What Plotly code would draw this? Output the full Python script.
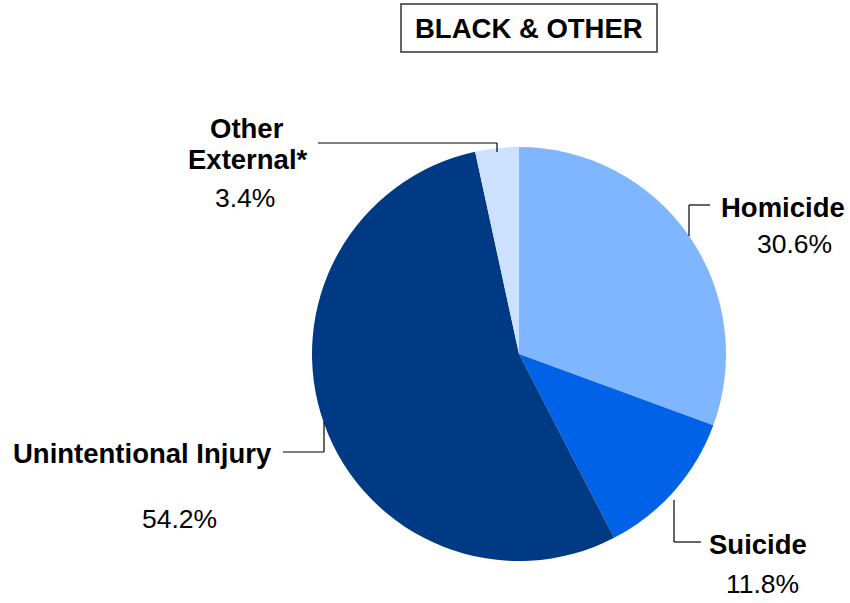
import plotly.graph_objects as go

W, H = 850, 603

categories = ["Homicide", "Suicide", "Unintentional Injury", "Other External*"]
values = [30.6, 11.8, 54.2, 3.4]
colors = ["#80B6FF", "#0062E6", "#003A84", "#CCE0FF"]
title_text = "BLACK & OTHER"

def px(x):
    return x / W

def py(y):
    return 1 - y / H

FONT = "Arial, Liberation Sans, sans-serif"

fig = go.Figure(go.Pie(
    labels=categories,
    values=values,
    sort=False,
    direction="clockwise",
    rotation=0,
    textinfo="none",
    hoverinfo="label+percent",
    marker=dict(colors=colors, line=dict(width=0)),
    domain=dict(x=[px(312), px(726)], y=[py(561), py(147)]),
    showlegend=False,
))

ann = []
def label(text, x, y, bold=True, size=None):
    if size is None:
        size = 27.5 if bold else 26.5
    ann.append(dict(
        text=f"<b>{text}</b>" if bold else text,
        x=px(x), y=py(y), xref="paper", yref="paper",
        xanchor="center", yanchor="middle", showarrow=False,
        font=dict(family=FONT, size=size, color="#000000"),
    ))

label(title_text, 529, 28)
label("Other", 247, 128)
label("External*", 248, 159)
label(f"{values[3]:.1f}%", 245, 198, bold=False)
label(categories[0], 783, 207)
label(f"{values[0]:.1f}%", 794, 244, bold=False)
label(categories[2], 142, 453)
label(f"{values[2]:.1f}%", 179, 519, bold=False)
label(categories[1], 758, 544)
label(f"{values[1]:.1f}%", 762, 584, bold=False)

shapes = [
    dict(type="rect", xref="paper", yref="paper",
         x0=px(401), x1=px(657), y0=py(52), y1=py(4),
         line=dict(color="#333333", width=1.5), fillcolor="white", layer="below"),
]

def seg(x0, y0, x1, y1):
    shapes.append(dict(type="line", xref="paper", yref="paper",
                       x0=px(x0), y0=py(y0), x1=px(x1), y1=py(y1),
                       line=dict(color="#000000", width=1.2)))

# Other External leader
seg(318, 143, 497, 143)
seg(497, 143, 497, 152)
# Homicide leader
seg(689, 205, 710, 205)
seg(689, 205, 689, 236)
# Unintentional leader
seg(283, 452, 324, 452)
seg(324, 452, 324, 422)
# Suicide leader
seg(674, 500, 674, 542)
seg(674, 542, 701, 542)

fig.update_layout(
    width=W, height=H,
    margin=dict(l=0, r=0, t=0, b=0),
    paper_bgcolor="white", plot_bgcolor="white",
    annotations=ann, shapes=shapes,
    font=dict(family=FONT),
)

fig.write_html("out.html",
               config={"displayModeBar": False},
               post_script="document.body.style.margin='0';document.body.style.padding='0';")
